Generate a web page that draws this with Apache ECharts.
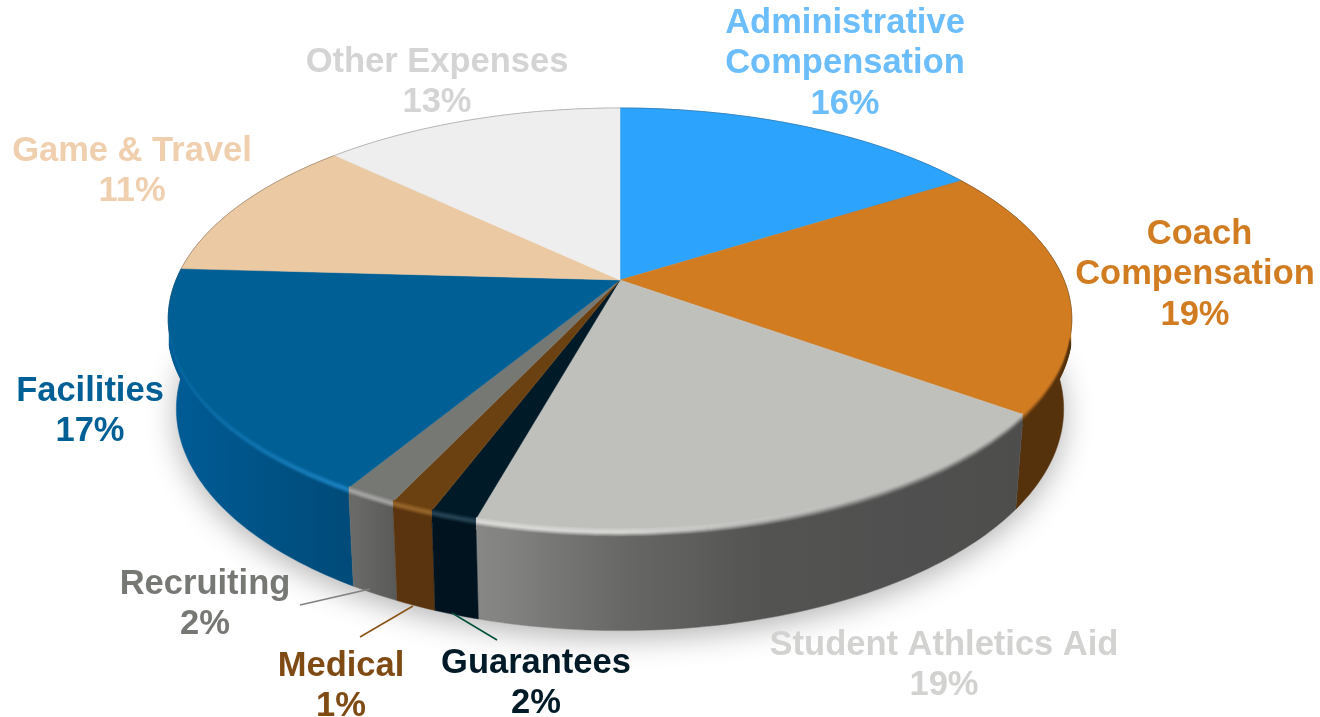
<!DOCTYPE html>
<html><head><meta charset="utf-8">
<style>html,body{margin:0;padding:0;background:#fff}#c{width:1320px;height:717px}</style>
<script src="https://cdn.jsdelivr.net/npm/echarts@6/dist/echarts.min.js"></script>
</head><body><div id="c"></div>
<script>
// ---- data ----
const categories = ['Administrative\nCompensation','Coach\nCompensation','Student Athletics Aid','Guarantees','Medical','Recruiting','Facilities','Game & Travel','Other Expenses'];
const shares = [16, 19, 19.3, 1.4, 1.3, 1.6, 17.3, 11.2, 12.9];
const printedPercents = ['16%','19%','19%','2%','1%','2%','17%','11%','13%'];

// ---- styles ----
const faceColors = ['#2ca3fc','#d27c21','#bfc0bc','#001a28','#6c4111','#767874','#005f95','#ebc9a2','#eeeeee'];
const labelColors = ['#6bbdfb','#d27c21','#d2d2d0','#001a28','#7f4a14','#767874','#005f95','#f0cfae','#d4d4d4'];
const glowColors = ['#2ca3fc','#d27c21','#f2f2f0','#3a5a6c','#b07a3a','#c0c0be','#2a9ae0','#ebc9a2','#eeeeee'];
const wallShades = [
  [[168,'#1b6fae'],[1074,'#1b6fae']],
  [[168,'#56330e'],[1074,'#55310c']],
  [[168,'#8a8a88'],[480,'#888886'],[620,'#686966'],[760,'#535352'],[1074,'#4c4c4c']],
  [[168,'#00131f'],[1074,'#00131f']],
  [[168,'#5a340e'],[1074,'#5a340e']],
  [[168,'#6c6c6a'],[350,'#6c6c6a'],[395,'#5a5a58'],[1074,'#5a5a58']],
  [[168,'#005c96'],[230,'#00568c'],[350,'#004a78'],[1074,'#004a78']],
  [[168,'#8a6a48'],[1074,'#8a6a48']],
  [[168,'#999999'],[1074,'#999999']]
];
// ---- layout ----
const labelAnchors = [[845,23.5],[1195,234.5],[944,645.5],[536,663.5],[341,666.5],[205,584.5],[90,391.5],[132,151.5],[437,62.5]];
const lineNudges = {1:[4.5,0,0]};
const leaderLines = {3:[[452,613],[497,640]],4:[[413,606],[360,637]],5:[[370,589],[300,605]]};
const leaderColors = {3:'#00523c',4:'#8a5314',5:'#808080'};
const APEX=[620,280], AX=444, AY=203.8, K=0.185;
const WALL_CY=409, WALL_SX=0.982, WALL_SY=1.05, TOP_CY=319;
const LINE_H=40.3;

function rim(deg){const t=deg*Math.PI/180,x=Math.sin(t),y=Math.cos(t),w=1+K*y;return [APEX[0]+AX*x/w,APEX[1]-AY*y/w];}
function low(p){return [APEX[0]+(p[0]-APEX[0])*WALL_SX, WALL_CY+(p[1]-TOP_CY)*WALL_SY];}
function arc(a,b){const n=Math.max(2,Math.ceil((b-a)));const o=[];for(let i=0;i<=n;i++)o.push(rim(a+(b-a)*i/n));return o;}
function hex(c){return [1,3,5].map(i=>parseInt(c.substr(i,2),16));}
function toHex(a){return 'rgb('+a.map(v=>Math.round(v)).join(',')+')';}
function mix(a,b,t){return a.map((v,i)=>v+(b[i]-v)*t);}
function shade(i,x){const s=wallShades[i];if(x<=s[0][0])return hex(s[0][1]);
  for(let j=1;j<s.length;j++){if(x<=s[j][0]){return mix(hex(s[j-1][1]),hex(s[j][1]),(x-s[j-1][0])/(s[j][0]-s[j-1][0]));}}
  return hex(s[s.length-1][1]);}
const X0=168,X1=1074;
function hGrad(fn){const st=[];for(let i=0;i<=24;i++){const x=X0+(X1-X0)*i/24;st.push({offset:i/24,color:toHex(fn(x))});}
  return {type:'linear',x:X0,y:0,x2:X1,y2:0,global:true,colorStops:st};}
function glow(x){if(x<620){return 0.15+0.55*Math.min(1,(x-170)/180);}return Math.max(0,0.7*(860-x)/240);}

function renderItem(params,api){
  const i=params.dataIndex, val=api.value(0);
  let before=0;for(let j=0;j<i;j++)before+=shares[j];
  const total=shares.reduce((a,b)=>a+b,0);
  const a=before/total*360,b=(before+val)/total*360;
  const pts=arc(a,b), kids=[];
  if(i===0){
    const ring=arc(0,360).map(low);
    kids.push({type:'polygon',z2:0,shape:{points:ring},style:{fill:'#fff',shadowBlur:30,shadowColor:'rgba(0,0,0,0.3)',shadowOffsetY:7,shadowOffsetX:0}});
  }
  // side wall
  const wall=pts.concat(pts.map(low).reverse());
  const wg=hGrad(x=>shade(i,x));
  kids.push({type:'polygon',z2:2+ (i<6?10-Math.abs(i-3):1),shape:{points:wall},style:{fill:wg,stroke:wg,lineWidth:0.5}});
  // top face
  kids.push({type:'polygon',z2:20,shape:{points:[APEX].concat(pts)},style:{fill:faceColors[i],stroke:faceColors[i],lineWidth:0.5}});
  // thin back rim
  const ba=Math.max(a,0),bb=Math.min(b,105),ca=Math.max(a,255),cb=b;
  [[ba,bb],[ca,cb]].forEach(r=>{if(r[1]>r[0]){kids.push({type:'polyline',z2:21,shape:{points:arc(r[0],r[1])},style:{fill:null,stroke:'rgba(70,70,70,0.35)',lineWidth:0.7}});}});
  // rounded edge: stacked strokes blending face into wall
  const ea=Math.max(a,105),eb=Math.min(b,255);
  if(eb>ea){
    const base=arc(ea,eb),face=hex(faceColors[i]),gc=hex(glowColors[i]);
    for(let k=-1;k<=10;k++){
      const u=Math.min(1,Math.max(0,(k+1)/9)),t=u*u*(3-2*u);
      const bump=Math.max(0,1-Math.abs(k-2.5)/4.5);
      const g=hGrad(x=>mix(mix(face,shade(i,x),t),gc,glow(x)*bump));
      kids.push({type:'polyline',z2:30+k,shape:{points:base.map(p=>[p[0],p[1]+k])},style:{fill:null,stroke:g,lineWidth:1.7,lineCap:'butt'}});
    }
  }
  // leader
  if(leaderLines[i]){kids.push({type:'polyline',z2:50,shape:{points:leaderLines[i]},style:{fill:null,stroke:leaderColors[i],lineWidth:1.5}});}
  // label
  const lines=categories[i].split('\n').concat([printedPercents[i]]);
  const nudge=lineNudges[i]||[];
  lines.forEach((s,j)=>{kids.push({type:'text',z2:60,style:{text:s,x:labelAnchors[i][0]+(nudge[j]||0),y:labelAnchors[i][1]+j*LINE_H,fill:labelColors[i],font:'bold 34.5px "Liberation Sans", Arial, sans-serif',align:'center',verticalAlign:'middle'}});});
  return {type:'group',children:kids};
}
const chart=echarts.init(document.getElementById('c'),null,{width:1320,height:717});
chart.setOption({animation:false,backgroundColor:'#ffffff',
  series:[{type:'custom',coordinateSystem:'none',renderItem:renderItem,silent:true,clip:false,
    data:shares.map((v,i)=>({name:categories[i],value:[v]}))}]});
</script></body></html>
